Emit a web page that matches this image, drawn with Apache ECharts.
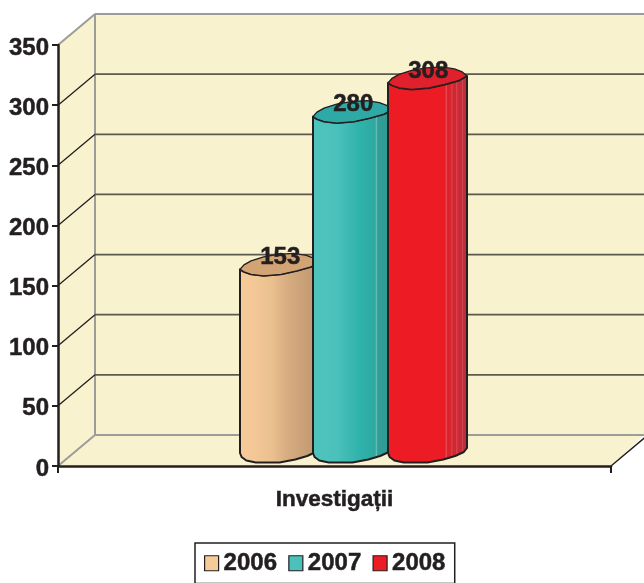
<!DOCTYPE html>
<html>
<head>
<meta charset="utf-8">
<style>html,body{margin:0;padding:0;background:#fff}#c{width:644px;height:583px}</style>
<script src="https://cdn.jsdelivr.net/npm/echarts@6/dist/echarts.min.js"></script>
</head>
<body>
<div id="c"></div>
<script>
var categories = ['Investigații'];
var years = ['2006', '2007', '2008'];
var values2006 = [153];
var values2007 = [280];
var values2008 = [308];
var yTicks = [0, 50, 100, 150, 200, 250, 300, 350];

var INK = '#231f20', WALL = '#f8f2cf', EDGE = '#9c9c98', GRID = '#5c5a4c';
var DX = 37, DY = -31;               // depth of the 3-D box
var FONT = '"Liberation Sans", Arial, sans-serif';

var chart = echarts.init(document.getElementById('c'), null, {renderer: 'canvas'});

function line(x1, y1, x2, y2, color, w) {
  return {type: 'line', shape: {x1: x1, y1: y1, x2: x2, y2: y2},
          style: {stroke: color, lineWidth: w}, silent: true};
}
function poly(points, fill) {
  return {type: 'polygon', shape: {points: points}, style: {fill: fill}, silent: true};
}

function renderWalls(params, api) {
  var v = api.value(0);
  var p = api.coord([0, v]);
  var cs = params.coordSys;
  var W = api.getWidth();
  var left = cs.x, right = cs.x + cs.width, top = cs.y, bottom = cs.y + cs.height;
  var kids = [];
  if (v === 0) {
    kids.push(poly([[left, top], [left + DX, top + DY], [W, top + DY], [W, bottom + DY],
                    [right, bottom], [left, bottom]], WALL));
    kids.push(line(left + DX, top + DY, left + DX, bottom + DY, EDGE, 2));
    kids.push(line(left + DX, top + DY, W, top + DY, EDGE, 2));
    kids.push(line(left, bottom, left + DX, bottom + DY, EDGE, 2));
    kids.push(line(left + DX, bottom + DY, W, bottom + DY, EDGE, 2.2));
    kids.push(line(right, bottom, right + DX, bottom + DY, INK, 1.5));
  } else if (v === 350) {
    kids.push(line(left, p[1], left + DX, p[1] + DY, EDGE, 2));
  } else {
    kids.push(line(left, p[1], left + DX, p[1] + DY, INK, 1.3));
    kids.push(line(left + DX, p[1] + DY, W, p[1] + DY, GRID, 1.8));
  }
  return {type: 'group', children: kids};
}

// Cylinder outline, as fractions of width, px offsets
var TOP_BACK  = [[0,0],[.05,-4.5],[.14,-8.5],[.3,-12.5],[.48,-15],[.68,-16],[.84,-14],[.94,-11],[1,-7]];
var TOP_FRONT = [[1,-7],[.9,-2.5],[.72,1.5],[.52,5],[.3,6.5],[.14,5],[.05,2.5],[0,0]];
var BOTTOM    = [[0,0],[.02,4],[.08,7.5],[.2,9.5],[.5,9.5],[.7,6.5],[.85,3],[.96,-1],[1,-5]];

var GEOM = [
  {dx: -94.5, side: [[0,'#f7cb98'],[.18,'#f4c896'],[.42,'#e9bf8f'],[.6,'#d6ac80'],[.8,'#c9a078'],[1,'#bd956c']], cap: '#d3a473'},
  {dx: -21.5, side: [[0,'#4fc4bd'],[.3,'#4cc1bb'],[.58,'#2fb3ac'],[.78,'#2da89f'],[.795,'#6cbdb7'],[.81,'#2f9f98'],[1,'#2f9890']], cap: '#2fa9a5'},
  {dx: 53.5,  side: [[0,'#ee2a33'],[.03,'#ed1c24'],[.72,'#ed1c24'],[.73,'#ef5660'],[.745,'#d9232d'],[.79,'#d8262f'],[.8,'#e0444c'],[.815,'#cf2833'],[.85,'#cf2833'],[.86,'#dd4650'],[.875,'#c92a36'],[.92,'#c42c38'],[.93,'#d64853'],[.945,'#bf2d3a'],[1,'#b9303c']], cap: '#e0202c'}
];
var CYL_W = 79;

function makeBar(i) {
  return function (params, api) {
    var val = api.value(1);
    var p = api.coord([api.value(0), val]);
    var base0 = api.coord([api.value(0), 0]);
    var g = GEOM[i];
    var x = p[0] + g.dx, yTop = p[1] - 12.6, yBase = base0[1] - 13, w = CYL_W;
    function pts(arr, y) { return arr.map(function (q) { return [x + q[0] * w, y + q[1]]; }); }

    var frontTop = pts(TOP_FRONT, yTop);
    var bottom = pts(BOTTOM, yBase);
    var body = bottom.concat(frontTop);
    var cap = pts(TOP_BACK, yTop).concat(frontTop);
    var stops = g.side.map(function (s) { return {offset: s[0], color: s[1]}; });

    return {type: 'group', children: [
      {type: 'polygon', shape: {points: body},
       style: {fill: new echarts.graphic.LinearGradient(0, 0, 1, 0, stops),
               stroke: INK, lineWidth: 2, lineJoin: 'round'}},
      {type: 'polygon', shape: {points: cap},
       style: {fill: g.cap, stroke: INK, lineWidth: 1.4, lineJoin: 'round'}},
      {type: 'text', x: x + w * 0.51, y: yTop - 12, silent: true,
       style: {text: String(val), fill: INK, font: 'bold 24px ' + FONT,
               align: 'center', verticalAlign: 'middle',
               stroke: INK, lineWidth: 0.5}}
    ]};
  };
}

function barSeries(i, values) {
  return {
    name: years[i], type: 'custom', coordinateSystem: 'cartesian2d', clip: false, z: 3 + i,
    encode: {x: 0, y: 1},
    itemStyle: {color: GEOM[i].side[0][1]},
    renderItem: makeBar(i),
    data: values.map(function (v, k) { return [k, v]; })
  };
}

var swatch = ['#f7cb98', '#4cc1bb', '#ed1c24'];
var heavy = {textBorderColor: INK, textBorderWidth: 0.5};

chart.setOption({
  animation: false,
  backgroundColor: '#fff',
  grid: {left: 58, right: 33, top: 45, bottom: 117, containLabel: false},
  xAxis: {
    type: 'category', data: categories, z: 8,
    axisLine: {lineStyle: {color: INK, width: 2.5}},
    axisTick: {show: true, length: 7, lineStyle: {color: INK, width: 2}},
    axisLabel: Object.assign({color: INK, fontFamily: FONT, fontWeight: 'bold', fontSize: 22.5, margin: 22}, heavy),
    splitLine: {show: false}
  },
  yAxis: {
    type: 'value', min: 0, max: 350, interval: 50, z: 8,
    axisLine: {show: true, lineStyle: {color: INK, width: 2.5}},
    axisTick: {show: true, length: 6, lineStyle: {color: INK, width: 2}},
    axisLabel: Object.assign({color: INK, fontFamily: FONT, fontWeight: 'bold', fontSize: 24, margin: 9,
                              formatter: '{v|{value}}',
                              rich: {v: {fontFamily: FONT, fontWeight: 'bold', fontSize: 24, color: INK,
                                         padding: [6, 0, 0, 0]}}}, heavy),
    splitLine: {show: false}
  },
  legend: {
    data: years.map(function (y, i) {
      return {name: y, icon: 'rect',
              itemStyle: {color: swatch[i], borderColor: INK, borderWidth: 1.2}};
    }),
    left: 195, top: 543, orient: 'horizontal',
    itemWidth: 14, itemHeight: 15, itemGap: 11,
    padding: [8, 9, 8, 9],
    borderColor: INK, borderWidth: 1.5,
    textStyle: Object.assign({color: INK, fontFamily: FONT, fontWeight: 'bold', fontSize: 24}, heavy)
  },
  series: [
    {name: 'walls', type: 'custom', coordinateSystem: 'cartesian2d', clip: false, z: 1,
     encode: {y: 0}, renderItem: renderWalls, silent: true,
     data: yTicks.map(function (v) { return [v]; })},
    barSeries(0, values2006),
    barSeries(1, values2007),
    barSeries(2, values2008)
  ]
});
</script>
</body>
</html>
